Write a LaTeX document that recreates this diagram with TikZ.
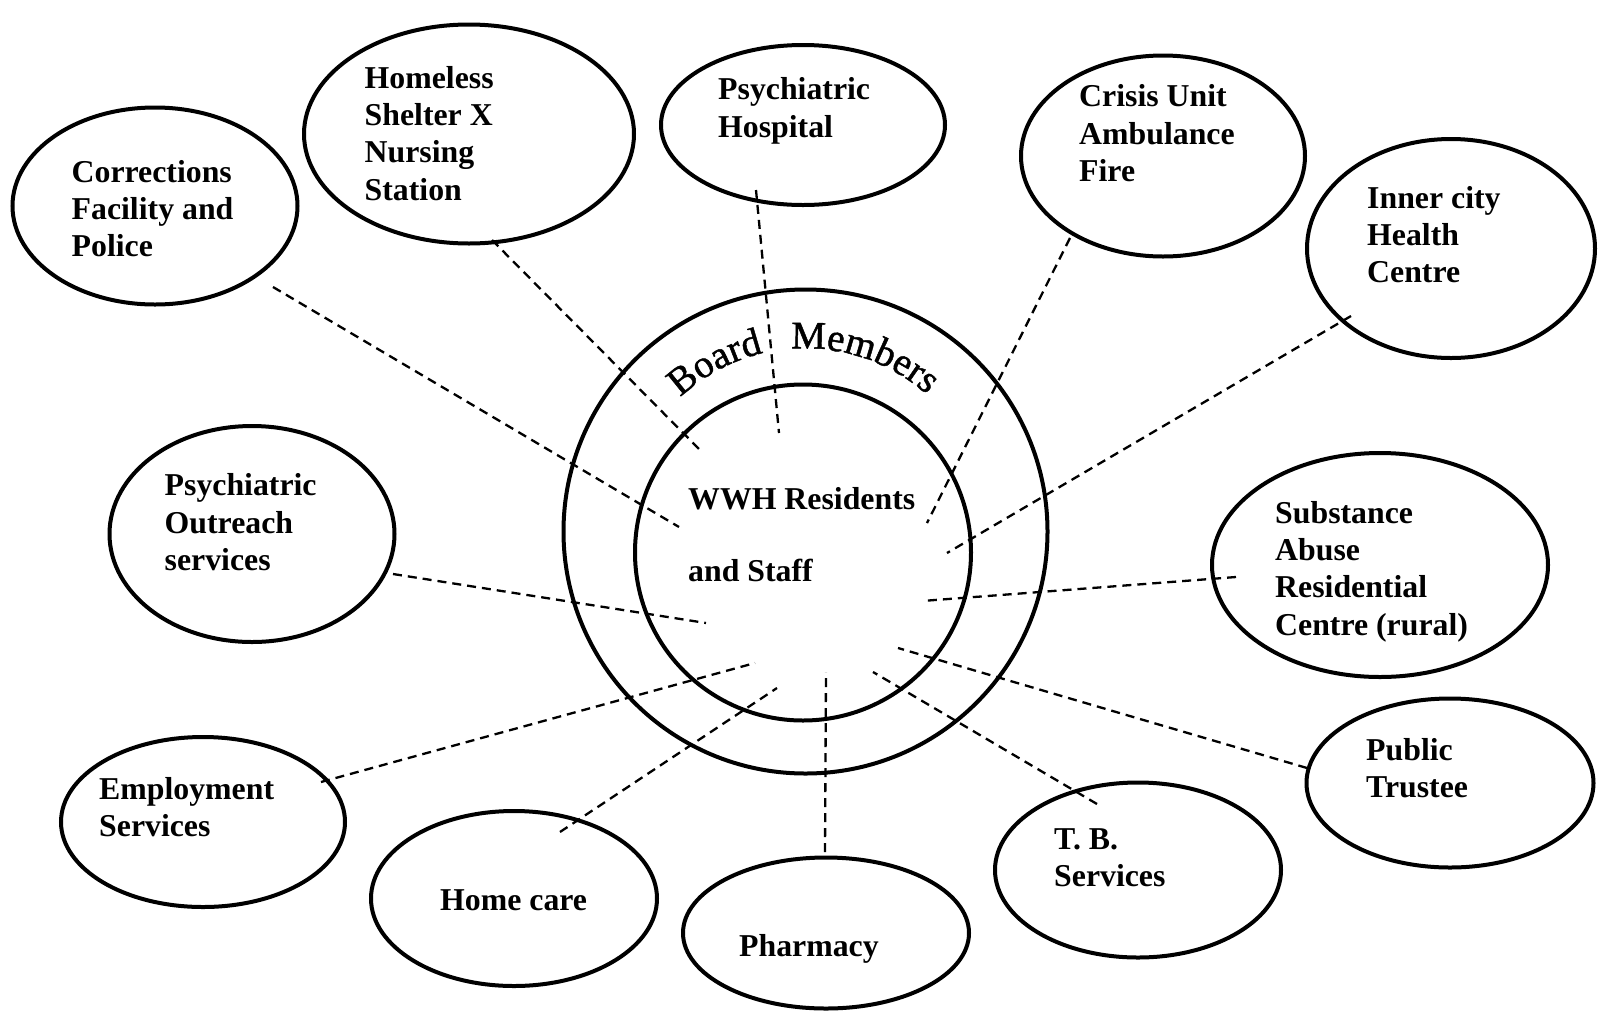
\documentclass[tikz,border=0pt]{standalone}
\usepackage{fontspec}
\setmainfont{Liberation Serif}
\newfontfamily\boardfont[FakeBold=1.2]{Liberation Serif}
\usetikzlibrary{shapes.geometric,decorations.text}
\begin{document}
\begin{tikzpicture}[x=1pt,y=1pt,
  agency/.style={draw, ellipse, line width=4pt, inner sep=0pt},
  ring/.style={draw, circle, line width=4pt, inner sep=0pt},
  lbl/.style={anchor=north west, inner sep=0pt, align=left,
    font=\fontsize{31.8pt}{37.3pt}\selectfont\bfseries},
  link/.style={line width=2.3pt, dash pattern=on 9pt off 6pt}]
\fill[white] (0,0) rectangle (1601,-1018);
\useasboundingbox (0,0) rectangle (1601,-1018);

% central circles
\node[ring, minimum size=484pt] (board) at (805.5,-531.5) {};
\node[ring, minimum size=336pt] (wwh) at (803,-552.5) {};

% agencies
\node[agency, minimum width=285pt, minimum height=197pt] (corr) at (155,-206) {};
\node[agency, minimum width=330pt, minimum height=219pt] (home) at (469,-134) {};
\node[agency, minimum width=284pt, minimum height=160pt] (psyh) at (803,-125) {};
\node[agency, minimum width=284pt, minimum height=201pt] (cris) at (1163,-156) {};
\node[agency, minimum width=288pt, minimum height=219pt] (innr) at (1451,-248.5) {};
\node[agency, minimum width=285pt, minimum height=216pt] (outr) at (252,-534) {};
\node[agency, minimum width=336pt, minimum height=224pt] (subs) at (1380,-565) {};
\node[agency, minimum width=284pt, minimum height=170pt] (empl) at (203,-822) {};
\node[agency, minimum width=286pt, minimum height=175pt] (hcar) at (514,-898.5) {};
\node[agency, minimum width=286pt, minimum height=151pt] (phar) at (826,-933) {};
\node[agency, minimum width=286pt, minimum height=175pt] (tbsv) at (1138,-870) {};
\node[agency, minimum width=287pt, minimum height=169pt] (publ) at (1450,-783) {};

% labels
\node[lbl] (corrT) at (71.5,-160) {Corrections\\Facility and\\Police};
\node[lbl] (homeT) at (364.5,-66) {Homeless\\Shelter X\\Nursing\\Station};
\node[lbl] (psyhT) at (718,-77.5) {Psychiatric\\Hospital};
\node[lbl] (crisT) at (1079,-84.5) {Crisis Unit\\Ambulance\\Fire};
\node[lbl] (innrT) at (1367,-186) {Inner city\\Health\\Centre};
\node[lbl] (outrT) at (164.5,-473.5) {Psychiatric\\Outreach\\services};
\node[lbl] (subsT) at (1275,-501) {Substance\\Abuse\\Residential\\Centre (rural)};
\node[lbl] (emplT) at (99,-777) {Employment\\Services};
\node[lbl] (hcarT) at (440,-889) {Home care};
\node[lbl] (pharT) at (739,-934) {Pharmacy};
\node[lbl] (tbsvT) at (1054,-828) {T. B.\\Services};
\node[lbl] (publT) at (1366,-738) {Public\\Trustee};
\node[lbl, font=\fontsize{31.8pt}{72.5pt}\selectfont\bfseries] (wwhT) at (688,-487) {WWH Residents\\and Staff};

% Board Members along the ring
\path[decorate, decoration={text along path,
  text={|\boardfont\fontsize{39pt}{41pt}\selectfont|Board}}]
  (805.5,-531.5) ++(133:183.5pt) arc[start angle=133, end angle=96, radius=183.5pt];
\path[decorate, decoration={text along path,
  text={|\boardfont\fontsize{39pt}{41pt}\selectfont|Members}}]
  (805.5,-531.5) ++(94.5:183pt) arc[start angle=94.5, end angle=38, radius=183pt];

% connector ends
\coordinate (corrS) at (273,-287);  \coordinate (corrE) at (679,-527);
\coordinate (homeS) at (492,-240);  \coordinate (homeE) at (703,-453);
\coordinate (psyhS) at (756,-190);  \coordinate (psyhE) at (779,-433);
\coordinate (crisS) at (1070,-238); \coordinate (crisE) at (927,-523);
\coordinate (innrS) at (1351,-316); \coordinate (innrE) at (947,-553);
\coordinate (outrS) at (393,-574);  \coordinate (outrE) at (706,-623);
\coordinate (subsS) at (1236,-577); \coordinate (subsE) at (922,-601);
\coordinate (emplS) at (321,-782);  \coordinate (emplE) at (755,-663);
\coordinate (hcarS) at (560,-832);  \coordinate (hcarE) at (777,-688);
\coordinate (pharS) at (825,-852);  \coordinate (pharE) at (826,-672);
\coordinate (tbsvS) at (1097,-804); \coordinate (tbsvE) at (873,-672);
\coordinate (publS) at (1307,-768); \coordinate (publE) at (898,-648);

\foreach \n in {corr,home,psyh,cris,innr,outr,subs,empl,hcar,phar,tbsv,publ}
  \draw[link] (\n S) -- (\n E);
\end{tikzpicture}
\end{document}
